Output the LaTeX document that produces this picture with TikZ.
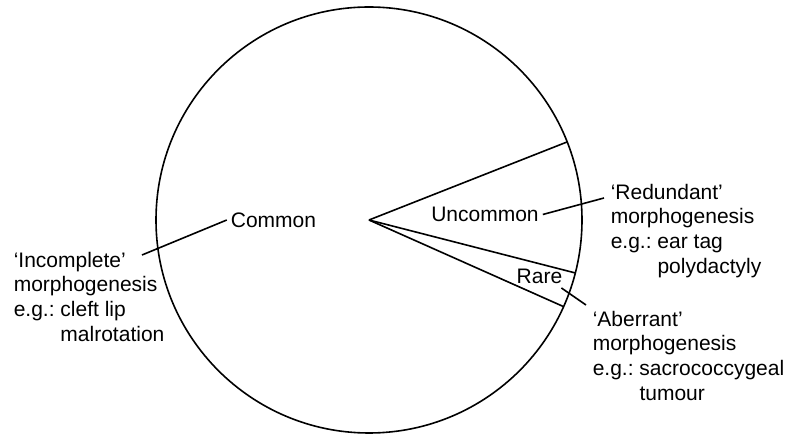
\documentclass[tikz,border=0pt]{standalone}
\usepackage{fontspec}
\setmainfont{Liberation Sans}
\frenchspacing
\begin{document}
\begin{tikzpicture}[x=1pt, y=1pt, line width=1.6pt,
    every node/.style={font=\fontsize{21}{24.7}\selectfont},
    note/.style={align=left, inner sep=0pt, anchor=north west}]
    \useasboundingbox (0,0) rectangle (793,436) ;
    \coordinate (o) at (369,216) ;
    \draw (o) circle (213) ;
    \draw (o) -- ++(21.5:213) ;
    \draw (o) -- ++(-14.4:213) ;
    \draw (o) -- ++(-24:213) ;

    \node (common) at (273.5,216) {Common} ;
    \node (uncommon) at (485,221.5) {Uncommon} ;
    \node (rare) at (539.5,159.5) {Rare} ;

    \node [note] (incomplete) at (13,185) {‘Incomplete’\\morphogenesis\\e.g.: cleft lip\\\phantom{e.g.: }malrotation} ;
    \node [note] (redundant) at (610,253) {‘Redundant’\\morphogenesis\\e.g.: ear tag\\\phantom{e.g.: }polydactyly} ;
    \node [note] (aberrant) at (592,126) {‘Aberrant’\\morphogenesis\\e.g.: sacrococcygeal\\\phantom{e.g.: }tumour} ;

    \coordinate (incomplete-tip) at (142,181) ;
    \coordinate (redundant-tip) at (604,238) ;
    \coordinate (aberrant-tip) at (586,131) ;
    \draw (incomplete-tip) -- (common.west) ;
    \draw (uncommon.east) -- (redundant-tip) ;
    \draw ([xshift=-5pt]rare.south east) -- (aberrant-tip) ;
\end{tikzpicture}
\end{document}
